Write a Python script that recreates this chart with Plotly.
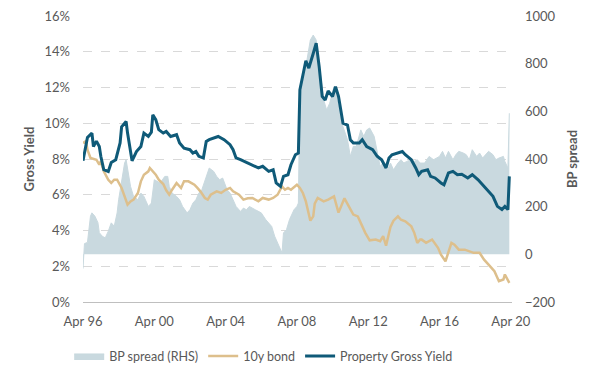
import plotly.graph_objects as go

# ---- Property Gross Yield (%), left axis ----
prop_dates = ["1996-04","1996-07","1996-10","1996-11","1997-01","1997-03","1997-04","1997-06","1997-09","1997-11",
"1998-02","1998-05","1998-06","1998-09","1998-10","1998-12","1999-01","1999-04","1999-07","1999-09",
"1999-12","2000-02","2000-03","2000-05","2000-07","2000-10","2000-12","2001-03","2001-07","2001-09",
"2001-12","2002-04","2002-06","2002-08","2002-10","2003-01","2003-03","2003-05","2003-08","2003-11",
"2004-03","2004-07","2004-09","2004-11","2005-02","2005-06","2005-09","2005-10","2006-02","2006-05",
"2006-09","2006-12","2007-02","2007-05","2007-07","2007-10","2007-12","2008-03","2008-05","2008-06",
"2008-08","2008-10","2008-12","2009-02","2009-03","2009-05","2009-07","2009-09","2009-11","2010-01",
"2010-04","2010-06","2010-08","2010-11","2011-02","2011-04","2011-06","2011-10","2011-12","2012-03",
"2012-07","2012-10","2013-01","2013-04","2013-06","2013-08","2013-12","2014-03","2014-05","2014-09",
"2014-12","2015-02","2015-04","2015-08","2015-10","2016-01","2016-05","2016-07","2016-10","2017-01",
"2017-04","2017-07","2017-11","2018-02","2018-06","2018-09","2018-12","2019-04","2019-07","2019-10",
"2019-12","2020-02","2020-03"]
prop_yield = [7.9,9.2,9.45,8.7,9.0,8.7,8.15,7.4,7.3,7.8,
7.96,8.9,9.8,10.1,9.45,8.33,7.9,8.42,8.7,9.45,
9.26,9.5,10.47,10.2,9.64,9.45,9.54,9.26,9.36,8.9,
8.6,8.52,8.33,8.42,8.15,8.06,8.98,9.08,9.17,9.26,
9.08,8.8,8.52,8.06,7.96,7.8,7.68,7.68,7.5,7.59,
7.31,7.4,6.66,6.47,7.03,7.12,7.68,8.24,8.33,11.87,
12.8,13.5,13.08,13.6,13.9,14.48,13.17,11.5,11.3,11.8,
11.5,12.05,11.5,10.0,9.9,9.08,8.9,8.9,9.08,8.7,
8.52,8.15,7.96,7.5,8.06,8.24,8.33,8.42,8.24,7.96,
7.5,7.12,7.31,7.4,7.03,6.94,6.66,6.56,7.22,7.31,
7.12,7.15,6.94,7.12,6.84,6.56,6.28,5.91,5.35,5.17,
5.35,5.17,7.03]

# ---- 10y bond (%), left axis ----
bond_dates = ["1996-04","1996-06","1996-07","1996-09","1997-01","1997-03","1997-04","1997-06","1997-09","1997-11",
"1998-01","1998-03","1998-06","1998-08","1998-10","1998-12","1999-02","1999-05","1999-07","1999-09",
"1999-12","2000-01","2000-03","2000-05","2000-07","2000-10","2000-12","2001-02","2001-04","2001-07",
"2001-10","2001-12","2002-03","2002-07","2002-09","2002-11","2003-02","2003-04","2003-06","2003-10",
"2004-01","2004-04","2004-07","2004-09","2005-01","2005-04","2005-07","2005-10","2006-02","2006-05",
"2006-09","2006-12","2007-03","2007-06","2007-08","2007-10","2007-12","2008-04","2008-06","2008-08",
"2008-10","2009-01","2009-03","2009-04","2009-06","2009-10","2010-01","2010-05","2010-08","2010-12",
"2011-03","2011-06","2011-09","2011-12","2012-02","2012-05","2012-09","2012-12","2013-02","2013-04",
"2013-07","2013-09","2013-12","2014-02","2014-05","2014-09","2014-11","2015-01","2015-03","2015-04",
"2015-07","2015-09","2015-11","2016-03","2016-05","2016-08","2016-09","2016-12","2017-02","2017-05",
"2017-09","2017-12","2018-03","2018-07","2018-10","2019-01","2019-05","2019-08","2019-11","2019-12",
"2020-02","2020-03"]
bond_yield = [8.9,9.0,8.52,8.06,7.96,7.68,7.87,7.31,6.84,6.66,
6.84,6.84,6.38,5.91,5.45,5.63,5.73,6.1,6.75,7.12,
7.31,7.5,7.31,7.12,6.84,6.6,6.25,6.0,6.28,6.66,
6.38,6.75,6.75,6.56,6.38,6.19,5.82,5.73,6.0,6.19,
6.1,6.28,6.38,6.19,6.0,5.73,5.8,5.82,5.63,5.82,
5.73,5.82,6.0,6.47,6.28,6.38,6.28,6.56,6.38,6.1,
5.63,4.55,4.79,5.5,5.82,5.63,5.73,5.91,5.0,5.8,
5.35,4.89,4.79,4.23,3.87,3.45,3.49,3.4,3.68,3.15,
4.2,4.55,4.79,4.6,4.51,4.23,3.87,3.31,3.49,3.49,
3.31,3.4,3.49,3.03,2.65,2.28,2.56,3.31,3.21,2.93,
2.93,2.84,2.75,2.75,2.37,2.09,1.72,1.16,1.26,1.54,
1.16,1.07]

# ---- BP spread (bps), right axis ----
spread_dates = ["1996-04","1996-05","1996-07","1996-09","1996-10","1996-12","1997-02","1997-03","1997-05","1997-07",
"1997-09","1997-11","1998-01","1998-03","1998-04","1998-07","1998-08","1998-09","1998-11","1998-12",
"1999-02","1999-05","1999-07","1999-09","1999-12","2000-02","2000-04","2000-06","2000-08","2000-11",
"2001-01","2001-02","2001-04","2001-07","2001-09","2001-11","2002-02","2002-04","2002-06","2002-08",
"2002-10","2002-12","2003-03","2003-05","2003-08","2003-10","2003-12","2004-02","2004-05","2004-07",
"2004-09","2004-11","2005-02","2005-04","2005-06","2005-08","2005-12","2006-04","2006-07","2006-11",
"2007-01","2007-03","2007-06","2007-07","2007-09","2007-11","2008-02","2008-04","2008-05","2008-06",
"2008-08","2008-10","2009-01","2009-03","2009-05","2009-08","2009-10","2009-12","2010-02","2010-05",
"2010-07","2010-09","2010-11","2011-02","2011-04","2011-06","2011-08","2011-11","2012-01","2012-03",
"2012-05","2012-08","2012-10","2012-12","2013-02","2013-05","2013-07","2013-09","2013-12","2014-02",
"2014-04","2014-06","2014-09","2014-11","2015-01","2015-03","2015-06","2015-09","2015-12","2016-04",
"2016-06","2016-08","2016-10","2017-01","2017-03","2017-05","2017-08","2017-10","2017-12","2018-02",
"2018-05","2018-07","2018-09","2018-12","2019-01","2019-04","2019-06","2019-08","2019-11","2019-12",
"2020-02","2020-03"]
bp_spread = [-60,45,50,160,174,160,133,91,76,69,
97,132,118,174,229,348,383,397,327,285,
243,229,257,243,201,215,313,306,299,327,
327,285,257,243,229,201,174,187,215,229,
257,271,327,362,348,327,313,320,271,257,
229,201,180,194,187,201,187,174,146,117,
76,48,6,90,104,146,187,201,215,704,
746,788,899,920,899,732,648,606,634,704,
648,578,536,481,411,453,453,522,495,522,
530,495,425,369,383,355,383,355,383,397,
383,390,397,390,397,383,383,411,397,411,
432,404,432,397,418,432,425,418,397,439,
411,425,404,425,432,418,397,404,411,390,
362,592]

# ---- axis ticks ----
x_tickvals = ["1996-04-01","2000-04-01","2004-04-01","2008-04-01","2012-04-01","2016-04-01","2020-04-01"]
x_ticktext = ["Apr 96","Apr 00","Apr 04","Apr 08","Apr 12","Apr 16","Apr 20"]
yield_ticks = [0, 2, 4, 6, 8, 10, 12, 14, 16]
yield_ticktext = ["0%", "2%", "4%", "6%", "8%", "10%", "12%", "14%", "16%"]
spread_ticks = [-200, 0, 200, 400, 600, 800, 1000]

TXT = "#595959"
FONT = "Lato"

fig = go.Figure()
# spread on the primary (right-side) axis so it is drawn beneath the lines
fig.add_trace(go.Scatter(
    x=spread_dates, y=bp_spread, name="BP spread (RHS)", yaxis="y",
    mode="lines", fill="tozeroy", fillcolor="#c9d9df",
    line=dict(color="#c9d9df", width=1)))
fig.add_trace(go.Scatter(
    x=bond_dates, y=bond_yield, name="10y bond", mode="lines", yaxis="y2",
    line=dict(color="#ddbf8c", width=2.5)))
fig.add_trace(go.Scatter(
    x=prop_dates, y=prop_yield, name="Property Gross Yield", mode="lines", yaxis="y2",
    line=dict(color="#0f5a78", width=3)))

# the page body adds an 8px offset, margins compensate for it
fig.update_layout(
    width=600, height=378,
    margin=dict(l=75, r=96, t=8, b=83.5, autoexpand=False),
    plot_bgcolor="white", paper_bgcolor="white",
    font=dict(family=FONT, size=13, color=TXT),
    showlegend=True,
    legend=dict(orientation="h", x=0.42, xanchor="center", y=-0.19, yanchor="middle",
                font=dict(size=12.5, color=TXT), itemwidth=30, tracegroupgap=0),
    xaxis=dict(
        type="date", range=["1996-04-01", "2020-04-25"],
        tickvals=x_tickvals, ticktext=x_ticktext,
        showgrid=False, showline=True, linecolor="#bfbfbf", linewidth=1,
        ticks="", zeroline=False, ticklabelstandoff=7, ticklabeloverflow="allow",
        tickfont=dict(size=13, color=TXT)),
    yaxis=dict(
        range=[-200, 1000], tickvals=spread_ticks, side="right",
        showgrid=False, zeroline=False, showline=False, ticks="", automargin=False,
        ticklabelstandoff=12, ticklabeloverflow="allow",
        title=dict(text="<b>BP spread</b>", font=dict(size=13, color=TXT), standoff=13),
        tickfont=dict(size=13, color=TXT)),
    yaxis2=dict(
        range=[0, 16], tickvals=yield_ticks, ticktext=yield_ticktext,
        overlaying="y", side="left",
        showgrid=True, gridcolor="#d9d9d9", griddash="dash", gridwidth=1,
        zeroline=False, showline=False, ticks="", automargin=False,
        ticklabelstandoff=12, ticklabeloverflow="allow",
        title=dict(text="<b>Gross Yield</b>", font=dict(size=13, color=TXT), standoff=6),
        tickfont=dict(size=13, color=TXT)),
)

fig.write_html("out.html")
